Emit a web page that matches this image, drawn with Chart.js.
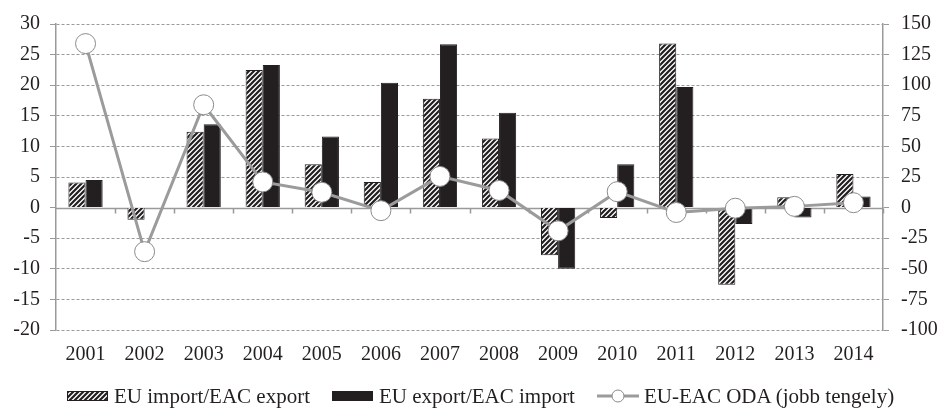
<!DOCTYPE html>
<html>
<head>
<meta charset="utf-8">
<script src="https://cdn.jsdelivr.net/npm/chart.js@4"></script>
<style>
    html, body { margin: 0; padding: 0; background: #fff; }
    #wrap { position: relative; width: 942px; height: 408px; }
    #legend {
        position: absolute; left: 67px; top: 384px;
        display: flex; align-items: center;
        font-family: "Liberation Serif", "Times New Roman", serif; font-size: 21px; color: #231f20;
        line-height: 24px; white-space: nowrap;
    }
    #legend .item { display: flex; align-items: center; margin-right: 22px; }
    #legend canvas { margin-right: 5px; }
</style>
</head>
<body>
<div id="wrap">
    <canvas id="tradeChart" width="942" height="408"></canvas>
    <div id="legend"></div>
</div>
<script>
const years = ['2001', '2002', '2003', '2004', '2005', '2006', '2007', '2008', '2009', '2010', '2011', '2012', '2013', '2014'];
const euImportEacExport = [4.1, -2.0, 12.4, 22.5, 7.1, 4.2, 17.8, 11.3, -7.8, -1.7, 26.8, -12.6, 1.7, 5.5];
const euExportEacImport = [4.5, 0, 13.6, 23.3, 11.6, 20.4, 26.7, 15.5, -10.0, 7.1, 19.7, -2.7, -1.6, 1.8];
const odaRight = [134, -36, 84, 21, 12.5, -2.5, 25.5, 14, -19, 13, -4, -0.5, 1, 4];

const leftTicks = { min: -20, max: 30, step: 5 };
const rightTicks = { min: -100, max: 150, step: 25 };

const labelNames = ['EU import/EAC export', 'EU export/EAC import', 'EU-EAC ODA (jobb tengely)'];

const ink = '#231f20';
const gridGray = '#9a9a9a';
const lineGray = '#9b9b9b';
const serif = '"Liberation Serif", "Times New Roman", serif';

// diagonal stripes "////" for the hatched series
function makeHatch(g) {
    const n = 5;
    const c = document.createElement('canvas');
    c.width = n; c.height = n;
    const h = c.getContext('2d');
    h.fillStyle = '#fff';
    h.fillRect(0, 0, n, n);
    h.strokeStyle = ink;
    h.lineWidth = 2.2;
    h.beginPath();
    h.moveTo(-1, n + 1); h.lineTo(n + 1, -1);
    h.moveTo(-1, 1); h.lineTo(1, -1);
    h.moveTo(n - 1, n + 1); h.lineTo(n + 1, n - 1);
    h.stroke();
    return g.createPattern(c, 'repeat');
}

const ctx = document.getElementById('tradeChart').getContext('2d');
const hatch = makeHatch(ctx);

// solid zero line with small tick marks between the years
const zeroLine = {
    id: 'zeroLine',
    beforeDatasetsDraw(chart) {
        const x = chart.scales.x, y = chart.scales.y;
        const y0 = Math.round(y.getPixelForValue(0)) + 0.5;
        const c = chart.ctx;
        const step = (x.right - x.left) / years.length;
        c.save();
        c.strokeStyle = gridGray;
        c.lineWidth = 1.5;
        c.beginPath();
        c.moveTo(x.left, y0);
        c.lineTo(x.right, y0);
        for (let i = 1; i <= years.length; i++) {
            const px = Math.round(x.left + i * step) + 0.5;
            c.moveTo(px, y0);
            c.lineTo(px, y0 + 5);
        }
        c.stroke();
        c.restore();
    }
};

new Chart(ctx, {
    data: {
        labels: years,
        datasets: [
            {
                type: 'line',
                label: labelNames[2],
                data: odaRight,
                yAxisID: 'y1',
                borderColor: lineGray,
                borderWidth: 3,
                tension: 0,
                pointRadius: 10,
                pointBackgroundColor: '#fff',
                pointBorderColor: '#8a8a8a',
                pointBorderWidth: 1,
                order: 0
            },
            {
                type: 'bar',
                label: labelNames[0],
                data: euImportEacExport,
                yAxisID: 'y',
                backgroundColor: hatch,
                borderColor: ink,
                borderWidth: 1,
                barPercentage: 1,
                categoryPercentage: 0.58,
                order: 1
            },
            {
                type: 'bar',
                label: labelNames[1],
                data: euExportEacImport,
                yAxisID: 'y',
                backgroundColor: ink,
                borderColor: ink,
                borderWidth: 1,
                barPercentage: 1,
                categoryPercentage: 0.58,
                order: 1
            }
        ]
    },
    options: {
        responsive: false,
        animation: false,
        layout: { padding: { top: 12, left: 0, right: 0, bottom: 0 } },
        plugins: {
            legend: { display: false },
            tooltip: { enabled: false }
        },
        scales: {
            x: {
                grid: { display: false },
                border: { display: false },
                ticks: { color: ink, font: { family: serif, size: 20 }, padding: 5, maxRotation: 0 },
                afterFit(scale) { scale.height = 78; }
            },
            y: {
                position: 'left',
                min: leftTicks.min,
                max: leftTicks.max,
                ticks: { stepSize: leftTicks.step, color: ink, font: { family: serif, size: 20 }, padding: 10 },
                grid: {
                    color: (c) => c.tick && c.tick.value === 0 ? 'rgba(0,0,0,0)' : gridGray,
                    lineWidth: 1,
                    tickLength: 6,
                    tickColor: gridGray
                },
                border: { display: true, color: gridGray, width: 1.5, dash: [3, 2] },
                afterFit(scale) { scale.width = 56; }
            },
            y1: {
                position: 'right',
                min: rightTicks.min,
                max: rightTicks.max,
                ticks: { stepSize: rightTicks.step, color: ink, font: { family: serif, size: 20 }, padding: 12 },
                grid: { drawOnChartArea: false, tickLength: 6, color: gridGray },
                border: { display: true, color: gridGray, width: 1.5 },
                afterFit(scale) { scale.width = 59; }
            }
        }
    },
    plugins: [zeroLine]
});

// legend built as html below the plot
function legendSwatch(kind) {
    const c = document.createElement('canvas');
    c.width = 42; c.height = 16;
    const g = c.getContext('2d');
    if (kind === 'line') {
        g.strokeStyle = lineGray;
        g.lineWidth = 3;
        g.beginPath(); g.moveTo(0, 8); g.lineTo(42, 8); g.stroke();
        g.fillStyle = '#fff';
        g.strokeStyle = '#8a8a8a';
        g.lineWidth = 1;
        g.beginPath(); g.arc(21, 8, 6, 0, Math.PI * 2); g.fill(); g.stroke();
    } else {
        g.fillStyle = kind === 'hatch' ? makeHatch(g) : ink;
        g.fillRect(0.5, 3.5, 40, 9);
        g.strokeStyle = ink;
        g.lineWidth = 1;
        g.strokeRect(0.5, 3.5, 40, 9);
    }
    return c;
}

const legendEl = document.getElementById('legend');
['hatch', 'solid', 'line'].forEach(function (kind, i) {
    const item = document.createElement('div');
    item.className = 'item';
    item.appendChild(legendSwatch(kind));
    const span = document.createElement('span');
    span.textContent = labelNames[i];
    item.appendChild(span);
    legendEl.appendChild(item);
});
</script>
</body>
</html>
